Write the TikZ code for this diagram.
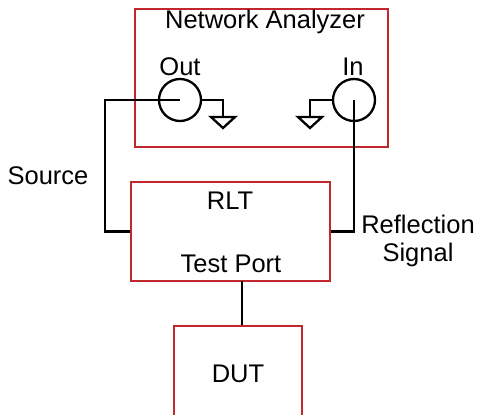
\documentclass[tikz,border=0pt]{standalone}
\usepackage{fontspec}
\setmainfont{Liberation Sans}
\definecolor{boxred}{RGB}{192,40,45}
\begin{document}
\begin{tikzpicture}[x=1pt,y=-1pt,
  redbox/.style={draw=boxred,line width=2pt,rectangle,inner sep=0pt},
  port/.style={draw=black,line width=2.3pt,circle,inner sep=0pt,minimum size=42pt},
  wire/.style={draw=black,line width=2.3pt},
  lbl/.style={inner sep=0pt,font=\fontsize{25.5}{28}\selectfont,align=center}]
\useasboundingbox (0,0) rectangle (477,415);
\clip (0,0) rectangle (477,415);
\node[redbox,minimum width=253pt,minimum height=138pt] (na) at (261.5,78) {};
\node[redbox,minimum width=199pt,minimum height=99pt] (rlt) at (230.5,231.5) {};
\node[redbox,minimum width=128pt,minimum height=110pt] (dut) at (238,381) {};
\node[port] (out) at (180,100) {};
\node[port] (in) at (354,100) {};
\node[lbl] (tna) at (265,22) {Network Analyzer};
\node[lbl] (tout) at (180,67) {Out};
\node[lbl] (tin) at (353,67) {In};
\node[lbl] (tsrc) at (48,176) {Source};
\node[lbl] (trlt) at (230,201) {RLT};
\node[lbl] (ttp) at (231,264) {Test Port};
\node[lbl] (trefl) at (418,241) {Reflection\\Signal};
\node[lbl] (tdut) at (238,374) {DUT};
% source wire
\draw[wire] (out.center) -- (105,100) |- (rlt.west);
% reflection wire
\draw[wire] (in.center) |- (rlt.east);
% grounds
\draw[wire] (out.east) -- (223,100) -- (223,117);
\draw[wire] (211,117) -- (235,117) -- (223,128) -- cycle;
\draw[wire] (in.west) -- (310,100) -- (310,117);
\draw[wire] (298,117) -- (322,117) -- (310,128) -- cycle;
% test port to DUT
\coordinate (tp) at (242,281);
\draw[wire] (tp) -- (tp |- dut.north);
\end{tikzpicture}
\end{document}
